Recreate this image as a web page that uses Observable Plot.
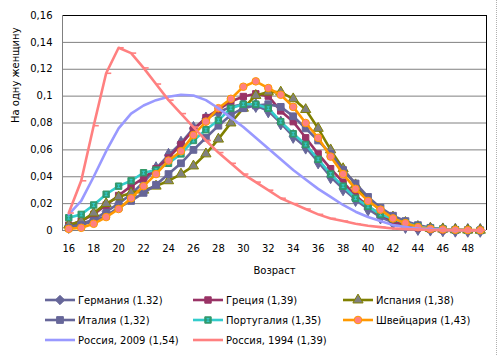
<!DOCTYPE html>
<html>
<head>
<meta charset="utf-8">
<script src="https://cdn.jsdelivr.net/npm/d3@7"></script>
<script src="https://cdn.jsdelivr.net/npm/@observablehq/plot@0.6"></script>
<style>
  html, body { margin: 0; padding: 0; background: #fff; }
  #wrap { position: relative; width: 500px; height: 355px; font-family: "DejaVu Sans", Verdana, sans-serif; }
  #edge { position: absolute; left: 496px; top: 0; width: 0; height: 355px; border-left: 1px dotted #b0b0b0; }
  #legend { position: absolute; left: 0; top: 285px; width: 500px; height: 70px; }
  .item { position: absolute; display: flex; align-items: center; font-size: 10px; color: #000; white-space: nowrap; }
  .item svg { display: block; margin-right: 3px; }
</style>
</head>
<body>
<div id="wrap"><div id="chart"></div><div id="legend"></div><div id="edge"></div></div>
<script>
const ages = [16,17,18,19,20,21,22,23,24,25,26,27,28,29,30,31,32,33,34,35,36,37,38,39,40,41,42,43,44,45,46,47,48,49];
const xTicks = [16,18,20,22,24,26,28,30,32,34,36,38,40,42,44,46,48];
const yTicks = [0,0.02,0.04,0.06,0.08,0.1,0.12,0.14,0.16];

const seriesNames = ["Германия (1.32)","Греция (1,39)","Испания (1,38)","Италия (1,32)","Португалия (1,35)","Швейцария (1,43)","Россия, 2009 (1,54)","Россия, 1994 (1,39)"];

const germany = [0.003,0.005,0.008,0.014,0.020,0.027,0.036,0.046,0.056,0.065,0.076,0.083,0.088,0.092,0.094,0.093,0.089,0.080,0.070,0.062,0.051,0.040,0.031,0.023,0.016,0.010,0.006,0.003,0.0015,0.001,0.0005,0.0002,0.0001,0.0001];
const greece = [0.004,0.007,0.012,0.019,0.026,0.033,0.039,0.046,0.054,0.064,0.075,0.084,0.090,0.096,0.0997,0.1017,0.100,0.089,0.081,0.069,0.057,0.046,0.036,0.026,0.018,0.012,0.007,0.004,0.002,0.001,0.0005,0.0003,0.0002,0.0001];
const spain = [0.004,0.007,0.013,0.020,0.025,0.028,0.030,0.033,0.037,0.042,0.048,0.057,0.068,0.080,0.091,0.1005,0.103,0.103,0.098,0.090,0.076,0.060,0.046,0.034,0.023,0.015,0.010,0.006,0.003,0.0015,0.001,0.0005,0.0003,0.0002];
const italy = [0.002,0.004,0.007,0.011,0.017,0.022,0.028,0.034,0.042,0.050,0.060,0.069,0.078,0.086,0.091,0.093,0.094,0.092,0.085,0.076,0.067,0.057,0.045,0.035,0.025,0.017,0.011,0.007,0.004,0.002,0.001,0.0005,0.0002,0.0001];
const portugal = [0.0095,0.012,0.019,0.027,0.033,0.037,0.043,0.045,0.050,0.057,0.067,0.075,0.082,0.091,0.094,0.094,0.091,0.081,0.072,0.064,0.053,0.042,0.033,0.024,0.018,0.012,0.0087,0.0055,0.003,0.0015,0.001,0.0005,0.0002,0.0001];
const switzerland = [0.0012,0.002,0.005,0.010,0.016,0.024,0.033,0.042,0.052,0.059,0.071,0.081,0.091,0.098,0.107,0.111,0.106,0.101,0.092,0.080,0.069,0.055,0.042,0.031,0.022,0.0155,0.009,0.0055,0.0025,0.0012,0.0008,0.0005,0.0003,0.0002];
const russia2009 = [0.012,0.022,0.040,0.059,0.076,0.087,0.093,0.097,0.0995,0.101,0.1005,0.097,0.091,0.084,0.077,0.069,0.061,0.053,0.045,0.038,0.031,0.025,0.019,0.014,0.010,0.007,0.004,0.0025,0.0015,0.001,0.0005,0.0003,0.0002,0.0001];
const russia1994 = [0.013,0.037,0.078,0.117,0.136,0.132,0.121,0.109,0.097,0.087,0.077,0.067,0.058,0.050,0.042,0.036,0.030,0.024,0.020,0.016,0.012,0.009,0.007,0.005,0.0035,0.0025,0.0015,0.001,0.0007,0.0004,0.0003,0.0002,0.0001,0.0001];

const seriesValues = [germany, greece, spain, italy, portugal, switzerland, russia2009, russia1994];

// custom marker shapes
const dashSym = {draw(ctx, size) { const s = Math.sqrt(size); ctx.moveTo(0, 0); ctx.lineTo(s * 0.9, 0); }};
const ibeamSym = {draw(ctx, size) { const s = Math.sqrt(size) * 0.22; ctx.moveTo(-s, -s); ctx.lineTo(s, -s); ctx.moveTo(0, -s); ctx.lineTo(0, s); ctx.moveTo(-s, s); ctx.lineTo(s, s); }};

const styles = [
  {line: "#666699", marks: [{symbol: "diamond", fill: "#666699", stroke: "#666699", r: 4.2}]},
  {line: "#993366", marks: [{symbol: "square", fill: "#993366", stroke: "#993366", r: 3.6}]},
  {line: "#808000", marks: [{symbol: "triangle", fill: "#808080", stroke: "#808000", r: 3.8}]},
  {line: "#666699", marks: [{symbol: "square", fill: "#666699", stroke: "#666699", r: 3.8}]},
  {line: "#33CCCC", marks: [{symbol: "square", fill: "#2E9A78", stroke: "#339966", r: 3.6}, {symbol: ibeamSym, fill: "none", stroke: "#33CCCC", r: 3.6, sw: 1}]},
  {line: "#FF9900", marks: [{symbol: "circle", fill: "#FF8080", stroke: "#FF9900", r: 3.8}]},
  {line: "#9999FF", marks: []},
  {line: "#FF8080", marks: [{symbol: dashSym, fill: "none", stroke: "#FF8080", r: 3.2, sw: 1.6}]}
];

const fmt = d => String(+d.toFixed(2)).replace(".", ",");

const marks = [
  Plot.ruleY(yTicks.slice(0, -1), {stroke: "#808080", strokeWidth: 1}),
  Plot.ruleY([yTicks[yTicks.length - 1]], {stroke: "#000", strokeWidth: 1}),
  Plot.ruleX([15.5], {stroke: "#808080", strokeWidth: 1}),
  Plot.ruleX([49.5], {stroke: "#000", strokeWidth: 1}),
  Plot.axisY({ticks: yTicks, tickFormat: fmt, tickSize: 0, tickPadding: 10, label: null, fontSize: 10}),
  Plot.axisX({ticks: xTicks, tickFormat: d => String(d), tickSize: 0, tickPadding: 14, label: null, fontSize: 10}),
  Plot.text(["На одну женщину"], {frameAnchor: "left", dx: -47, rotate: -90, fontSize: 10, fill: "#000"}),
  Plot.text(["Возраст"], {frameAnchor: "bottom", dy: 43, fontSize: 10, fill: "#000"})
];

seriesValues.forEach((vals, i) => {
  const rows = ages.map((a, j) => ({age: a, v: vals[j]}));
  const st = styles[i];
  marks.push(Plot.line(rows, {x: "age", y: "v", stroke: st.line, strokeWidth: 2.6, strokeLinejoin: "round"}));
  st.marks.forEach(m => {
    marks.push(Plot.dot(rows, {x: "age", y: "v", symbol: () => m.symbol, fill: m.fill, stroke: m.stroke, r: m.r, strokeWidth: m.sw || 1}));
  });
});

const chart = Plot.plot({
  width: 500,
  height: 285,
  marginLeft: 62,
  marginRight: 14,
  marginTop: 15,
  marginBottom: 55,
  style: {fontFamily: "DejaVu Sans, Verdana, sans-serif", fontSize: "10px", color: "#000", background: "#fff"},
  x: {domain: [15.5, 49.5], axis: null},
  y: {domain: [0, 0.16], axis: null},
  symbol: {type: "identity"},
  marks
});
document.getElementById("chart").appendChild(chart);

// legend
const legend = d3.select("#legend");
const colX = [45, 193, 343];
const rowY = [15, 35, 55];
seriesNames.forEach((name, i) => {
  const st = styles[i];
  const item = legend.append("div").attr("class", "item")
    .style("left", colX[i % 3] + "px").style("top", (rowY[Math.floor(i / 3)] - 7) + "px");
  const svg = item.append("svg").attr("width", 30).attr("height", 14);
  svg.append("line").attr("x1", 0).attr("x2", 30).attr("y1", 7).attr("y2", 7)
    .attr("stroke", st.line).attr("stroke-width", 2.6);
  st.marks.forEach(m => {
    const size = Math.PI * m.r * m.r;
    const symType = typeof m.symbol === "string"
      ? {diamond: d3.symbolDiamond2, square: d3.symbolSquare, triangle: d3.symbolTriangle, circle: d3.symbolCircle}[m.symbol]
      : m.symbol;
    svg.append("path").attr("d", d3.symbol(symType, size)()).attr("transform", "translate(15,7)")
      .attr("fill", m.fill).attr("stroke", m.stroke).attr("stroke-width", m.sw || 1);
  });
  item.append("span").text(name);
});
</script>
</body>
</html>
